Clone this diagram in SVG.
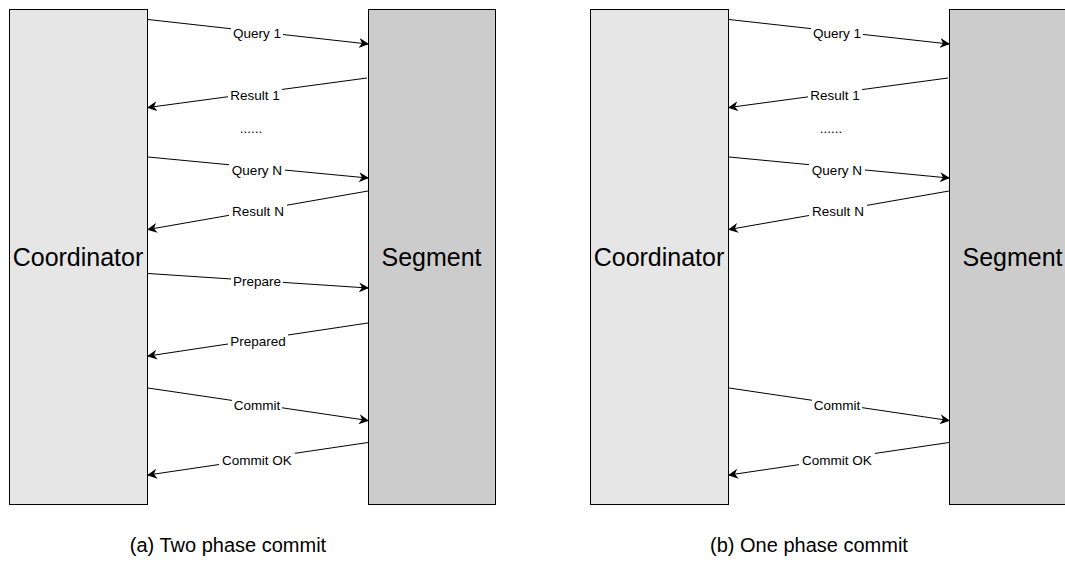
<svg xmlns="http://www.w3.org/2000/svg" width="1065" height="584" viewBox="0 0 1065 584">
<style>
.coord{fill:#e6e6e6;stroke:#000;stroke-width:1}
.seg{fill:#cccccc;stroke:#000;stroke-width:1}
.big{font-family:"Liberation Sans",Arial,sans-serif;font-size:25px;fill:#000;text-anchor:middle}
.lbl{font-family:"Liberation Sans",Arial,sans-serif;font-size:13.5px;fill:#000;text-anchor:middle;dominant-baseline:central}
.lblbg{fill:#fff}
.cap{font-family:"Liberation Sans",Arial,sans-serif;font-size:20px;fill:#000;text-anchor:middle}
.conn{stroke:#000;stroke-width:1;fill:none;marker-end:url(#arr)}
</style>
<defs>
<marker id="arr" viewBox="0 0 10 10" refX="9" refY="5" markerWidth="10" markerHeight="10" markerUnits="userSpaceOnUse" orient="auto">
<path d="M0,0 L10,5 L0,10 L3,5 Z" fill="#000"/>
</marker>
</defs>
<rect width="1065" height="584" fill="#fff"/>

<g id="coordinator-a"><rect class="coord" x="9.5" y="9.5" width="138" height="495"/><text class="big" x="78" y="266">Coordinator</text></g>
<g id="segment-a"><rect class="seg" x="368.5" y="9.5" width="127" height="495"/><text class="big" x="431.5" y="266">Segment</text></g>
<g id="coordinator-b"><rect class="coord" x="590.5" y="9.5" width="138" height="495"/><text class="big" x="659" y="266">Coordinator</text></g>
<g id="segment-b"><rect class="seg" x="949.5" y="9.5" width="127" height="495"/><text class="big" x="1012.5" y="266">Segment</text></g>

<g id="connectors">
<g id="conn-a">
<line class="conn" x1="148" y1="19.5" x2="368" y2="44"/>
<line class="conn" x1="367" y1="78" x2="148" y2="107.5"/>
<line class="conn" x1="148" y1="157" x2="368" y2="178"/>
<line class="conn" x1="368" y1="191" x2="148" y2="229.5"/>
<line class="conn" x1="148" y1="273.5" x2="368" y2="288"/>
<line class="conn" x1="368" y1="323" x2="148" y2="356"/>
<line class="conn" x1="148" y1="388" x2="368" y2="420.5"/>
<line class="conn" x1="368" y1="442.5" x2="148" y2="475"/>
</g>
<g id="conn-b">
<line class="conn" x1="729" y1="19.5" x2="949" y2="44"/>
<line class="conn" x1="948" y1="78" x2="729" y2="107.5"/>
<line class="conn" x1="729" y1="157" x2="949" y2="178"/>
<line class="conn" x1="949" y1="191" x2="729" y2="229.5"/>
<line class="conn" x1="729" y1="388" x2="949" y2="420.5"/>
<line class="conn" x1="949" y1="442.5" x2="729" y2="475"/>
</g>
</g>

<g id="labels-a">
<rect class="lblbg" x="231" y="26" width="52" height="14"/><text class="lbl" x="257" y="33">Query 1</text>
<rect class="lblbg" x="228" y="88" width="54" height="14"/><text class="lbl" x="255" y="95">Result 1</text>
<text class="lbl" x="251" y="128">......</text>
<rect class="lblbg" x="229" y="163" width="56" height="14"/><text class="lbl" x="257" y="170">Query N</text>
<rect class="lblbg" x="229" y="204" width="58" height="14"/><text class="lbl" x="258" y="211">Result N</text>
<rect class="lblbg" x="231" y="274" width="52" height="14"/><text class="lbl" x="257" y="281.5">Prepare</text>
<rect class="lblbg" x="228" y="334" width="60" height="14"/><text class="lbl" x="258" y="341">Prepared</text>
<rect class="lblbg" x="232" y="398" width="50" height="14"/><text class="lbl" x="257" y="405">Commit</text>
<rect class="lblbg" x="219" y="453" width="76" height="14"/><text class="lbl" x="257" y="460">Commit OK</text>
</g>
<g id="labels-b">
<rect class="lblbg" x="811" y="26" width="52" height="14"/><text class="lbl" x="837" y="33">Query 1</text>
<rect class="lblbg" x="808" y="88" width="54" height="14"/><text class="lbl" x="835" y="95">Result 1</text>
<text class="lbl" x="831" y="128">......</text>
<rect class="lblbg" x="809" y="163" width="56" height="14"/><text class="lbl" x="837" y="170">Query N</text>
<rect class="lblbg" x="809" y="204" width="58" height="14"/><text class="lbl" x="838" y="211">Result N</text>
<rect class="lblbg" x="812" y="398" width="50" height="14"/><text class="lbl" x="837" y="405">Commit</text>
<rect class="lblbg" x="799" y="453" width="76" height="14"/><text class="lbl" x="837" y="460">Commit OK</text>
</g>

<g id="captions">
<text class="cap" x="228" y="552">(a) Two phase commit</text>
<text class="cap" x="809" y="552">(b) One phase commit</text>
</g>
</svg>
